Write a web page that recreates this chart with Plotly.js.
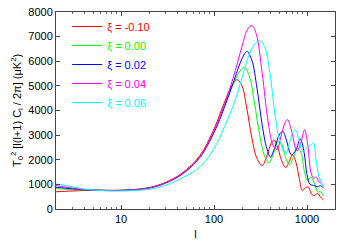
<!DOCTYPE html>
<html><head><meta charset="utf-8">
<script src="https://cdn.plot.ly/plotly-3.0.1.min.js"></script>
<style>html,body{margin:0;padding:0;background:#fff}#chart{width:349px;height:245px}</style>
</head><body><div id="chart"></div>
<script>
const names = ["ξ = -0.10","ξ = 0.00","ξ = 0.02","ξ = 0.04","ξ = 0.06"];
const colors = ["#ff0000","#00ff00","#0000ff","#ff00ff","#00ffff"];

const lR = [2,3,4,6,8,12,20,30,45,70,100,130,155,177,200,225,255,290,330,370,410,440,480,530,590,640,700,760,830,890,960,1030,1130,1220,1300,1400,1500];
const vR = [700,730,750,760,760,775,870,1080,1450,2150,3250,4350,5000,5250,5000,4100,2900,2050,1770,2150,2650,2800,2550,2000,1680,1900,2200,1900,1200,760,850,900,580,560,640,480,370];

const lG = [2,3,4,6,8,12,20,30,45,70,100,130,160,190,213,240,270,310,350,390,440,490,540,600,650,720,790,860,940,1020,1100,1200,1300,1400,1500];
const vG = [830,790,770,760,755,770,860,1060,1420,2100,3150,4200,5050,5600,5750,5400,4400,3000,2150,1880,2300,2750,2600,2000,1800,2150,2450,2300,1500,1150,1300,1050,700,700,540];

const lB = [2,3,4,6,8,12,20,30,45,70,100,130,160,200,226,255,290,330,370,405,450,510,552,600,680,760,847,930,1000,1080,1200,1300,1400,1500];
const vB = [880,820,780,760,750,765,850,1050,1400,2080,3100,4150,5100,6100,6400,6050,4900,3400,2450,2110,2500,3050,3150,2800,2200,2400,2840,2300,1400,1000,950,900,950,850];

const lM = [2,3,4,6,8,12,20,30,45,70,100,130,160,200,230,256,285,330,380,430,475,530,580,618,680,780,860,942,1020,1100,1180,1260,1350,1430,1500];
const vM = [950,850,790,760,750,765,850,1060,1420,2100,3150,4250,5300,6600,7300,7450,7100,5500,3600,2600,2410,3000,3500,3630,3200,2350,2700,3220,2600,1500,1250,1300,1100,1050,950];

const lC = [2,3,4,6,8,12,20,30,45,70,100,130,170,210,250,290,315,350,400,450,500,585,650,700,752,820,900,1000,1100,1175,1250,1350,1500];
const vC = [1020,900,810,750,730,740,800,960,1250,1700,2450,3350,4450,5600,6450,6800,6850,6600,5500,3900,2900,2250,2700,3100,3220,2800,2350,2500,2600,2680,2000,1300,900];

const xTickVals = [10,100,1000];
const xTickText = ["10","100","1000"];
const xMinor = [2,3,4,5,6,7,8,9,20,30,40,50,60,70,80,90,200,300,400,500,600,700,800,900,2000];
const yTickVals = [0,1000,2000,3000,4000,5000,6000,7000,8000];

const series = [[lR,vR],[lG,vG],[lB,vB],[lM,vM],[lC,vC]];
const traces = series.map((s,i)=>({
  x:s[0], y:s[1], type:'scatter', mode:'lines',
  name:'<span style="color:'+colors[i]+'">'+names[i]+'</span>',
  line:{color:colors[i], width:1, shape:'spline', smoothing:1}
}));

const layout = {
  width:349, height:245,
  margin:{l:56,r:14,t:12,b:36},
  paper_bgcolor:'#fff', plot_bgcolor:'#fff',
  font:{family:'Liberation Sans, Arial, sans-serif', size:11, color:'#000'},
  showlegend:true,
  legend:{x:0.04, y:1.0, xanchor:'left', yanchor:'top', bgcolor:'rgba(0,0,0,0)',
          font:{size:11}, itemwidth:30, tracegroupgap:0},
  xaxis:{type:'log', range:[Math.log10(2),Math.log10(2000)],
    tickvals:xTickVals, ticktext:xTickText, ticks:'inside', ticklen:4, tickcolor:'#444',
    minor:{tickvals:xMinor, ticks:'inside', ticklen:2, tickcolor:'#666'},
    showline:true, linecolor:'#444', linewidth:1, mirror:'allticks', showgrid:false, zeroline:false,
    title:{text:'l', font:{size:11}, standoff:6}},
  yaxis:{range:[0,8000], tickvals:yTickVals, ticks:'inside', ticklen:4, tickcolor:'#444',
    showline:true, linecolor:'#444', linewidth:1, mirror:'allticks', showgrid:false, zeroline:false,
    title:{text:'T<sub>0</sub><sup>2</sup> [l(l+1) C<sub>l</sub> / 2π] (μK<sup>2</sup>)', font:{size:11}, standoff:4}}
};
Plotly.newPlot('chart', traces, layout, {staticPlot:true, displayModeBar:false});
</script></body></html>
